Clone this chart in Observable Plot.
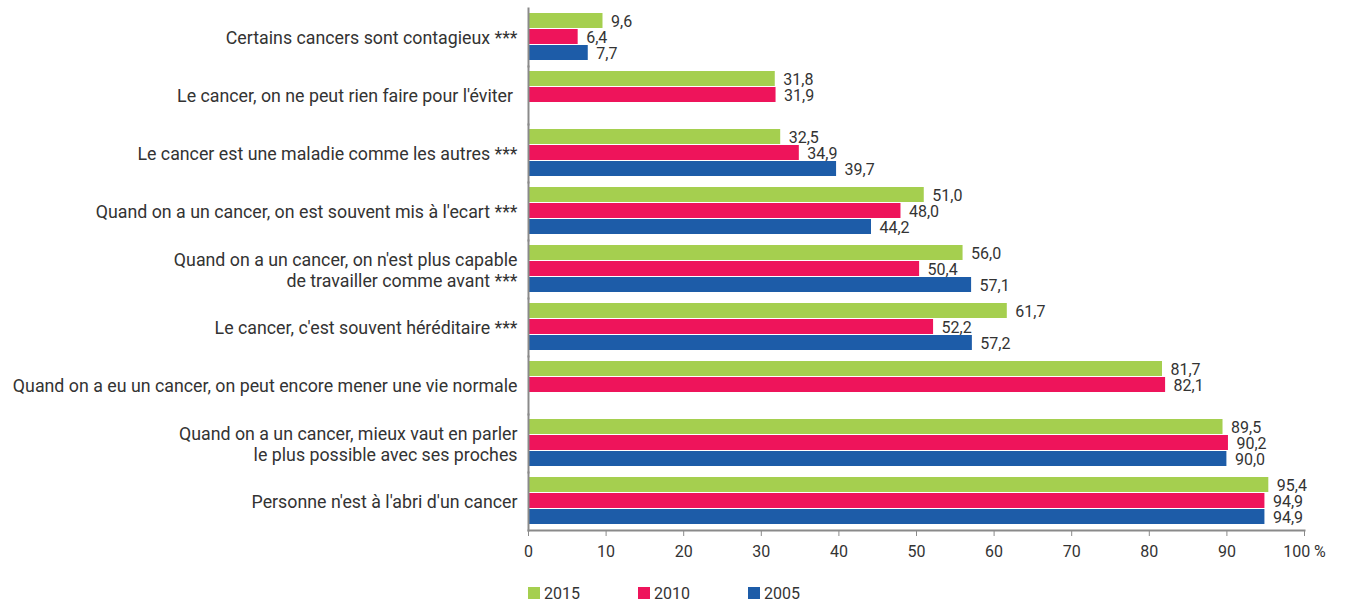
<!DOCTYPE html>
<html>
<head>
<meta charset="utf-8">
<script src="https://cdn.jsdelivr.net/npm/d3@7"></script>
<script src="https://cdn.jsdelivr.net/npm/@observablehq/plot@0.6"></script>
<style>
  body { margin: 0; background: white; font-family: Roboto, sans-serif; }
  #legend { display: flex; margin-left: 528px; height: 36px; align-items: center; font-size: 16px; color: #333; }
  .item { width: 110px; display: flex; align-items: center; }
  .sw { width: 12px; height: 12px; margin-right: 4px; }
</style>
</head>
<body>
<div id="chart"></div>
<div id="legend"></div>
<script>
const categories = [
  "Certains cancers sont contagieux ***",
  "Le cancer, on ne peut rien faire pour l'éviter ",
  "Le cancer est une maladie comme les autres ***",
  "Quand on a un cancer, on est souvent mis à l'ecart ***",
  "Quand on a un cancer, on n'est plus capable\nde travailler comme avant ***",
  "Le cancer, c'est souvent héréditaire ***",
  "Quand on a eu un cancer, on peut encore mener une vie normale",
  "Quand on a un cancer, mieux vaut en parler\nle plus possible avec ses proches",
  "Personne n'est à l'abri d'un cancer"
];
const series = ["2015", "2010", "2005"];
const colors = ["#a5cf4f", "#ee145b", "#1d5ca8"];
const v2015 = [9.6, 31.8, 32.5, 51.0, 56.0, 61.7, 81.7, 89.5, 95.4];
const v2010 = [6.4, 31.9, 34.9, 48.0, 50.4, 52.2, 82.1, 90.2, 94.9];
const v2005 = [7.7, null, 39.7, 44.2, 57.1, 57.2, null, 90.0, 94.9];
const xTicks = [0, 10, 20, 30, 40, 50, 60, 70, 80, 90, 100];

const seriesValues = {"2015": v2015, "2010": v2010, "2005": v2005};
const data = [];
categories.forEach((c, i) => {
  series.forEach(s => {
    const v = seriesValues[s][i];
    if (v != null) data.push({category: c, series: s, value: v});
  });
});
const fmt = v => v.toFixed(1).replace(".", ",");

const chart = Plot.plot({
  width: 1345,
  height: 575,
  marginLeft: 528,
  marginRight: 41,
  marginTop: 6,
  marginBottom: 44,
  style: {fontFamily: "Roboto, sans-serif", fontSize: "16px", color: "#333", background: "white"},
  x: {domain: [0, 100]},
  y: {domain: series, paddingInner: 0.04, paddingOuter: 0.3, axis: null},
  fy: {domain: categories, paddingInner: 0, paddingOuter: 0},
  color: {domain: series, range: colors},
  marks: [
    Plot.barX(data, {fy: "category", y: "series", x: "value", fill: "series"}),
    Plot.text(data, {fy: "category", y: "series", x: "value", text: d => fmt(d.value), textAnchor: "start", dx: 8, dy: 1, fontSize: 16, fill: "#333"}),
    Plot.frame({anchor: "left", stroke: "#8a8a8a", strokeWidth: 2}),
    Plot.frame({anchor: "bottom", facetAnchor: "bottom", stroke: "#8a8a8a", strokeWidth: 2}),
    Plot.axisX({ticks: xTicks, tickSize: 6, tickPadding: 9, stroke: "#8a8a8a", fill: "#333", fontSize: 16, label: null,
      tickFormat: d => d === 100 ? "100 %" : String(d)}),
    Plot.axisFy({anchor: "left", tickSize: 0, tickPadding: 11, label: null, fontSize: 17.8, fill: "#333", lineHeight: 1.2})
  ]
});
document.getElementById("chart").appendChild(chart);

const legend = document.getElementById("legend");
series.forEach((s, i) => {
  const item = document.createElement("div");
  item.className = "item";
  const sw = document.createElement("span");
  sw.className = "sw";
  sw.style.background = colors[i];
  item.appendChild(sw);
  item.appendChild(document.createTextNode(s));
  legend.appendChild(item);
});
</script>
</body>
</html>
